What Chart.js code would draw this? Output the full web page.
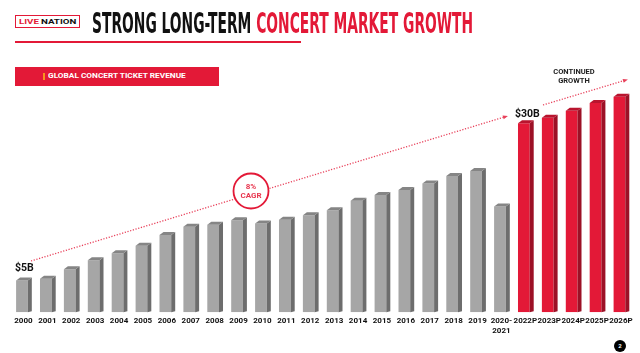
<!DOCTYPE html>
<html>
<head>
<meta charset="utf-8">
<script src="https://cdn.jsdelivr.net/npm/chart.js@4.4.1/dist/chart.umd.min.js"></script>
<style>
    body { margin: 0; background: #fff; }
    #wrap { position: relative; width: 640px; height: 353px; overflow: hidden; font-family: Roboto, sans-serif; }
    #myChart { position: absolute; left: 0; top: 0; }
    .fit { position: absolute; white-space: nowrap; transform-origin: 0 0; }
</style>
</head>
<body>
<div id="wrap">
    <canvas id="myChart" width="640" height="353"></canvas>

    <div style="position:absolute;left:15px;top:15px;width:63px;height:11px;border:1px solid #e31937;background:#fff"></div>
    <div class="fit" data-w="57" style="left:19px;top:17.5px;font:bold 7px Roboto;line-height:8px"><span style="color:#e31937">LIVE</span><span style="color:#111">&thinsp;NATION</span></div>

    <div class="fit" data-w="381" style="left:92px;top:7px;font:bold 28.3px 'DejaVu Sans Condensed';line-height:33px"><span style="color:#111">STRONG LONG-TERM </span><span style="color:#e31937">CONCERT MARKET GROWTH</span></div>
    <div style="position:absolute;left:15px;top:41.3px;width:286px;height:2px;background:#e31937"></div>

    <div style="position:absolute;left:15px;top:67px;width:204px;height:19px;background:#e31937"></div>
    <div style="position:absolute;left:43px;top:73px;width:1.5px;height:7px;background:#f7941d"></div>
    <div class="fit" data-w="138" style="left:48px;top:72.4px;color:#fff;font:bold 7.5px Roboto;line-height:8.8px">GLOBAL CONCERT TICKET REVENUE</div>

    <div style="position:absolute;left:534px;top:68px;width:80px;text-align:center;color:#222;font:bold 7.5px Roboto;line-height:8.8px">CONTINUED<br>GROWTH</div>

    <div style="position:absolute;left:614px;top:340px;width:12px;height:12px;border-radius:6px;background:#000;color:#fff;font:bold 6px Roboto;line-height:12px;text-align:center">2</div>
</div>

<script>
// global concert ticket revenue, $B
const years = [
    "2000", "2001", "2002", "2003", "2004", "2005", "2006", "2007", "2008",
    "2009", "2010", "2011", "2012", "2013", "2014", "2015", "2016", "2017",
    "2018", "2019", ["2020-", "2021"],
    "2022P", "2023P", "2024P", "2025P", "2026P",
]
const revenue = [
    5.0, 5.3, 6.8, 8.2, 9.3, 10.5, 12.2, 13.5, 13.8, 14.5, 14.0, 14.6, 15.3,
    16.1, 17.6, 18.5, 19.3, 20.3, 21.5, 22.3, 16.7,
    29.8, 30.7, 31.8, 33.0, 34.0,
]
const histCount = 21 // bars before this index are actuals, rest projected

// squeeze header texts to their width (once fonts are in)
function fitTexts() {
    document.querySelectorAll(".fit").forEach((el) => {
        el.style.transform = "none"
        const w = el.scrollWidth
        el.style.transform = "scaleX(" + el.dataset.w / w + ")"
    })
}
fitTexts()
document.fonts.ready.then(fitTexts)

// side and top faces for the 3d look
const bar3d = {
    id: "bar3d",
    afterDatasetsDraw(chart) {
        const ctx = chart.ctx
        const dx = 4
        const dy = 3
        chart.getDatasetMeta(0).data.forEach((bar, i) => {
            const { x, y, base, width } = bar.getProps(["x", "y", "base", "width"], true)
            const left = x - width / 2
            const right = x + width / 2
            const proj = i >= histCount
            ctx.save()
            ctx.fillStyle = proj ? "#9c1126" : "#6d6d6d"
            ctx.beginPath()
            ctx.moveTo(right, y)
            ctx.lineTo(right + dx, y - dy)
            ctx.lineTo(right + dx, base - 1)
            ctx.lineTo(right, base)
            ctx.closePath()
            ctx.fill()
            ctx.fillStyle = proj ? "#b9142e" : "#858585"
            ctx.beginPath()
            ctx.moveTo(left, y)
            ctx.lineTo(left + dx, y - dy)
            ctx.lineTo(right + dx, y - dy)
            ctx.lineTo(right, y)
            ctx.closePath()
            ctx.fill()
            ctx.restore()
        })
    },
}

// dotted trend arrows, cagr badge, $ callouts
function dottedArrow(ctx, x1, y1, x2, y2) {
    ctx.save()
    ctx.strokeStyle = "#e8405a"
    ctx.fillStyle = "#e8405a"
    ctx.lineWidth = 1.3
    ctx.setLineDash([1.2, 1.6])
    ctx.beginPath()
    ctx.moveTo(x1, y1)
    ctx.lineTo(x2, y2)
    ctx.stroke()
    const a = Math.atan2(y2 - y1, x2 - x1)
    ctx.setLineDash([])
    ctx.beginPath()
    ctx.moveTo(x2 + 2 * Math.cos(a), y2 + 2 * Math.sin(a))
    ctx.lineTo(x2 - 3 * Math.cos(a) + 2 * Math.sin(a), y2 - 3 * Math.sin(a) - 2 * Math.cos(a))
    ctx.lineTo(x2 - 3 * Math.cos(a) - 2 * Math.sin(a), y2 - 3 * Math.sin(a) + 2 * Math.cos(a))
    ctx.closePath()
    ctx.fill()
    ctx.restore()
}

const notes = {
    id: "notes",
    afterDraw(chart) {
        const ctx = chart.ctx
        dottedArrow(ctx, 31, 261, 506, 116.5)
        dottedArrow(ctx, 543, 105, 626, 80)

        ctx.save()
        ctx.beginPath()
        ctx.arc(251, 191, 17.5, 0, Math.PI * 2)
        ctx.fillStyle = "#fff"
        ctx.fill()
        ctx.lineWidth = 1.8
        ctx.strokeStyle = "#e31937"
        ctx.stroke()
        ctx.fillStyle = "#e8374f"
        ctx.font = "bold 8px Roboto"
        ctx.textAlign = "center"
        ctx.textBaseline = "middle"
        ctx.fillText("8%", 251, 187)
        ctx.fillText("CAGR", 251, 196)

        ctx.fillStyle = "#111"
        ctx.font = "bold 10.5px Roboto"
        ctx.textAlign = "left"
        ctx.fillText("$5B", 15, 268)
        ctx.fillText("$30B", 515, 114)
        ctx.restore()
    },
}

new Chart(document.getElementById("myChart"), {
    type: "bar",
    data: {
        labels: years,
        datasets: [
            {
                data: revenue,
                backgroundColor: revenue.map((v, i) => (i >= histCount ? "#e31937" : "#a6a6a6")),
                barPercentage: 0.49,
                categoryPercentage: 1,
            },
        ],
    },
    options: {
        responsive: false,
        animation: false,
        layout: {
            padding: { left: 10, right: 8.6, top: 58.7, bottom: 13.5 },
        },
        scales: {
            y: {
                display: false,
                min: 0,
                max: 40,
            },
            x: {
                grid: { display: false, drawTicks: false },
                border: { display: false },
                ticks: {
                    color: "#111",
                    font: { family: "Roboto", size: 8, weight: "bold", lineHeight: 1.2 },
                    padding: 4,
                    labelOffset: 1.5,
                    maxRotation: 0,
                    autoSkip: false,
                },
            },
        },
        plugins: {
            legend: { display: false },
            tooltip: { enabled: false },
        },
    },
    plugins: [bar3d, notes],
})
</script>
</body>
</html>
